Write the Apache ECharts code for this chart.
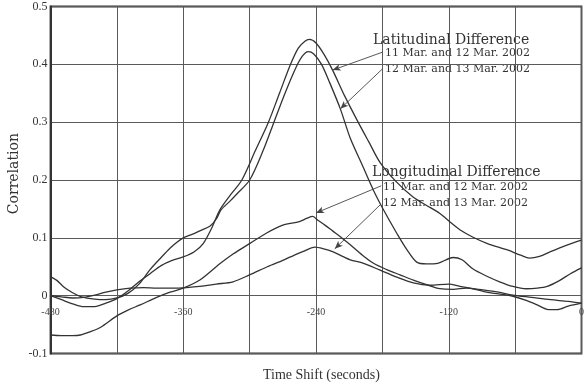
<!DOCTYPE html>
<html>
<head>
<meta charset="utf-8">
<script src="https://cdn.jsdelivr.net/npm/echarts@6/dist/echarts.min.js"></script>
<style>
  html, body { margin: 0; padding: 0; background: #fff; }
  #chart { width: 587px; height: 387px; }
</style>
</head>
<body>
<div id="chart"></div>
<script>
// Tick values shown on the axes
const xLabelTicks = [-480, -360, -240, -120, 0];
const yTicks = [-0.1, 0, 0.1, 0.2, 0.3, 0.4, 0.5];

// Latitudinal difference, 11 Mar. and 12 Mar. 2002
const latA_t = [-480,-470,-460,-450,-440,-430,-420,-410,-400,-390,-380,-370,-360,-350,-342,-334,-327,-317,-307,-295,-283,-273,-263,-256,-250,-246,-240,-233,-225,-214,-203,-192,-182,-168,-152,-140,-128,-118,-110,-98,-85,-67,-55,-47,-38,-28,-15,-5,0];
const latA_v = [0.000,-0.007,-0.014,-0.019,-0.019,-0.013,-0.005,0.008,0.024,0.038,0.052,0.061,0.067,0.076,0.090,0.118,0.148,0.175,0.200,0.250,0.300,0.350,0.400,0.428,0.440,0.443,0.437,0.418,0.390,0.345,0.304,0.265,0.230,0.198,0.170,0.156,0.142,0.126,0.114,0.101,0.090,0.079,0.070,0.065,0.068,0.076,0.086,0.093,0.096];

// Latitudinal difference, 12 Mar. and 13 Mar. 2002
const latB_t = [-480,-474,-468,-460,-452,-440,-430,-420,-410,-400,-390,-380,-372,-366,-360,-352,-344,-336,-330,-326,-318,-312,-300,-288,-278,-268,-258,-252,-247,-242,-235,-228,-218,-209,-198,-188,-178,-167,-158,-149,-140,-130,-116,-108,-98,-86,-74,-62,-50,-40,-31,-20,-10,0];
const latB_v = [0.033,0.026,0.015,0.005,-0.002,-0.006,-0.007,-0.004,0.004,0.020,0.045,0.066,0.082,0.092,0.100,0.106,0.113,0.120,0.133,0.148,0.163,0.175,0.200,0.250,0.300,0.350,0.395,0.415,0.422,0.418,0.400,0.370,0.323,0.272,0.225,0.182,0.145,0.108,0.080,0.058,0.055,0.056,0.066,0.062,0.046,0.034,0.024,0.016,0.012,0.013,0.016,0.026,0.038,0.048];

// Longitudinal difference, 11 Mar. and 12 Mar. 2002
const lonA_t = [-480,-470,-460,-453,-445,-435,-420,-410,-399,-384,-372,-360,-345,-327,-315,-300,-285,-270,-255,-248,-243,-238,-232,-225,-218,-209,-198,-188,-176,-164,-152,-140,-128,-116,-104,-96,-86,-75,-62,-50,-40,-30,-22,-12,0];
const lonA_v = [-0.068,-0.069,-0.069,-0.068,-0.063,-0.055,-0.035,-0.025,-0.016,-0.003,0.006,0.013,0.027,0.055,0.072,0.090,0.108,0.122,0.128,0.134,0.137,0.130,0.122,0.112,0.102,0.088,0.070,0.056,0.045,0.036,0.027,0.019,0.012,0.011,0.013,0.011,0.006,0.003,-0.001,-0.008,-0.016,-0.024,-0.024,-0.018,-0.013];

// Longitudinal difference, 12 Mar. and 13 Mar. 2002
const lonB_t = [-480,-470,-460,-450,-440,-430,-420,-408,-396,-384,-369,-357,-345,-330,-315,-300,-284,-270,-263,-252,-241,-233,-225,-215,-209,-197,-182,-167,-152,-137,-120,-110,-98,-89,-75,-62,-45,-28,-12,0];
const lonB_v = [0.000,-0.002,-0.004,-0.003,0.001,0.006,0.010,0.013,0.014,0.013,0.013,0.014,0.016,0.020,0.024,0.036,0.050,0.061,0.067,0.076,0.084,0.081,0.076,0.067,0.062,0.056,0.044,0.032,0.022,0.018,0.020,0.016,0.012,0.010,0.006,0.001,-0.003,-0.007,-0.010,-0.013];

// Leader arrows: [fromTime, fromValue, toTime, toValue]
const arrowLatA = [-180, 0.421, -225, 0.390];
const arrowLatB = [-180, 0.392, -218, 0.323];
const arrowLonA = [-181, 0.190, -240, 0.143];
const arrowLonB = [-182, 0.157, -223, 0.081];

const pairs = (ts, vs) => ts.map((t, i) => [t, vs[i]]);

const lineColor = '#333';
const gridColor = '#5a5a5a';
const serif = '"Liberation Serif", "DejaVu Serif", serif';
const wideSerif = '"DejaVu Serif", serif';

// Plot area box
const gridBox = { left: 50.5, right: 5.5, top: 6.5, bottom: 33.5 };
const chartHeight = 387;
const yMin = yTicks[0];
const yMax = yTicks[yTicks.length - 1];
// Lift the time axis (line + labels) up to the zero-correlation line
const plotHeight = chartHeight - gridBox.top - gridBox.bottom;
const zeroLift = plotHeight * (0 - yMin) / (yMax - yMin);

function arrowLine(a) {
  return {
    silent: true,
    symbol: ['none', 'arrow'],
    symbolSize: [5, 8],
    animation: false,
    label: { show: false },
    emphasis: { disabled: true },
    lineStyle: { color: '#444', width: 0.9, type: 'solid' },
    data: [[{ coord: [a[0], a[1]] }, { coord: [a[2], a[3]] }]]
  };
}

function curve(name, ts, vs, arrow) {
  return {
    name: name,
    type: 'line',
    data: pairs(ts, vs),
    showSymbol: false,
    smooth: 0.3,
    animation: false,
    lineStyle: { color: lineColor, width: 1.3 },
    markLine: arrowLine(arrow)
  };
}

const chart = echarts.init(document.getElementById('chart'), null, { renderer: 'canvas' });

chart.setOption({
  backgroundColor: '#fff',
  animation: false,
  grid: Object.assign({ show: true, borderColor: '#333', borderWidth: 1.8 }, gridBox),
  xAxis: {
    type: 'value', min: -480, max: 0, interval: 60,
    position: 'bottom',
    offset: -zeroLift,
    axisLine: { show: true, onZero: false, lineStyle: { color: gridColor, width: 1 } },
    axisTick: { show: false },
    splitLine: { show: true, lineStyle: { color: gridColor, width: 1 } },
    axisLabel: {
      margin: 12,
      color: '#444',
      fontFamily: serif,
      fontSize: 10,
      formatter: v => (xLabelTicks.includes(v) ? String(v) : '')
    }
  },
  yAxis: {
    type: 'value', min: yMin, max: yMax, interval: 0.1,
    axisLine: { show: true, onZero: false, lineStyle: { color: '#333', width: 2 } },
    axisTick: { show: false },
    splitLine: { show: true, lineStyle: { color: gridColor, width: 1 } },
    axisLabel: {
      margin: 3,
      color: '#333',
      fontFamily: serif,
      fontSize: 12,
      formatter: v => {
        const r = Math.round(v * 10) / 10;
        return r === 0 ? '0' : r.toFixed(1);
      }
    }
  },
  series: [
    curve('Latitudinal 11-12 Mar.', latA_t, latA_v, arrowLatA),
    curve('Latitudinal 12-13 Mar.', latB_t, latB_v, arrowLatB),
    curve('Longitudinal 11-12 Mar.', lonA_t, lonA_v, arrowLonA),
    curve('Longitudinal 12-13 Mar.', lonB_t, lonB_v, arrowLonB)
  ],
  graphic: [
    { type: 'text', left: 373, top: 33, silent: true,
      style: { text: 'Latitudinal Difference', font: '14px ' + wideSerif, fill: '#333' } },
    { type: 'text', left: 385, top: 48, silent: true,
      style: { text: '11 Mar. and 12 Mar. 2002', font: '11px ' + wideSerif, fill: '#333' } },
    { type: 'text', left: 385, top: 64, silent: true,
      style: { text: '12 Mar. and 13 Mar. 2002', font: '11px ' + wideSerif, fill: '#333' } },
    { type: 'text', left: 372, top: 165, silent: true,
      style: { text: 'Longitudinal Difference', font: '14px ' + wideSerif, fill: '#333' } },
    { type: 'text', left: 383, top: 182, silent: true,
      style: { text: '11 Mar. and 12 Mar. 2002', font: '11px ' + wideSerif, fill: '#333' } },
    { type: 'text', left: 383, top: 198, silent: true,
      style: { text: '12 Mar. and 13 Mar. 2002', font: '11px ' + wideSerif, fill: '#333' } },
    { type: 'text', left: 263, top: 368, silent: true,
      style: { text: 'Time Shift (seconds)', font: '14px ' + serif, fill: '#333' } },
    { type: 'text', left: 7, top: 133, rotation: Math.PI / 2, silent: true,
      style: { text: 'Correlation', font: '14px ' + wideSerif, fill: '#333' } }
  ]
});
</script>
</body>
</html>
